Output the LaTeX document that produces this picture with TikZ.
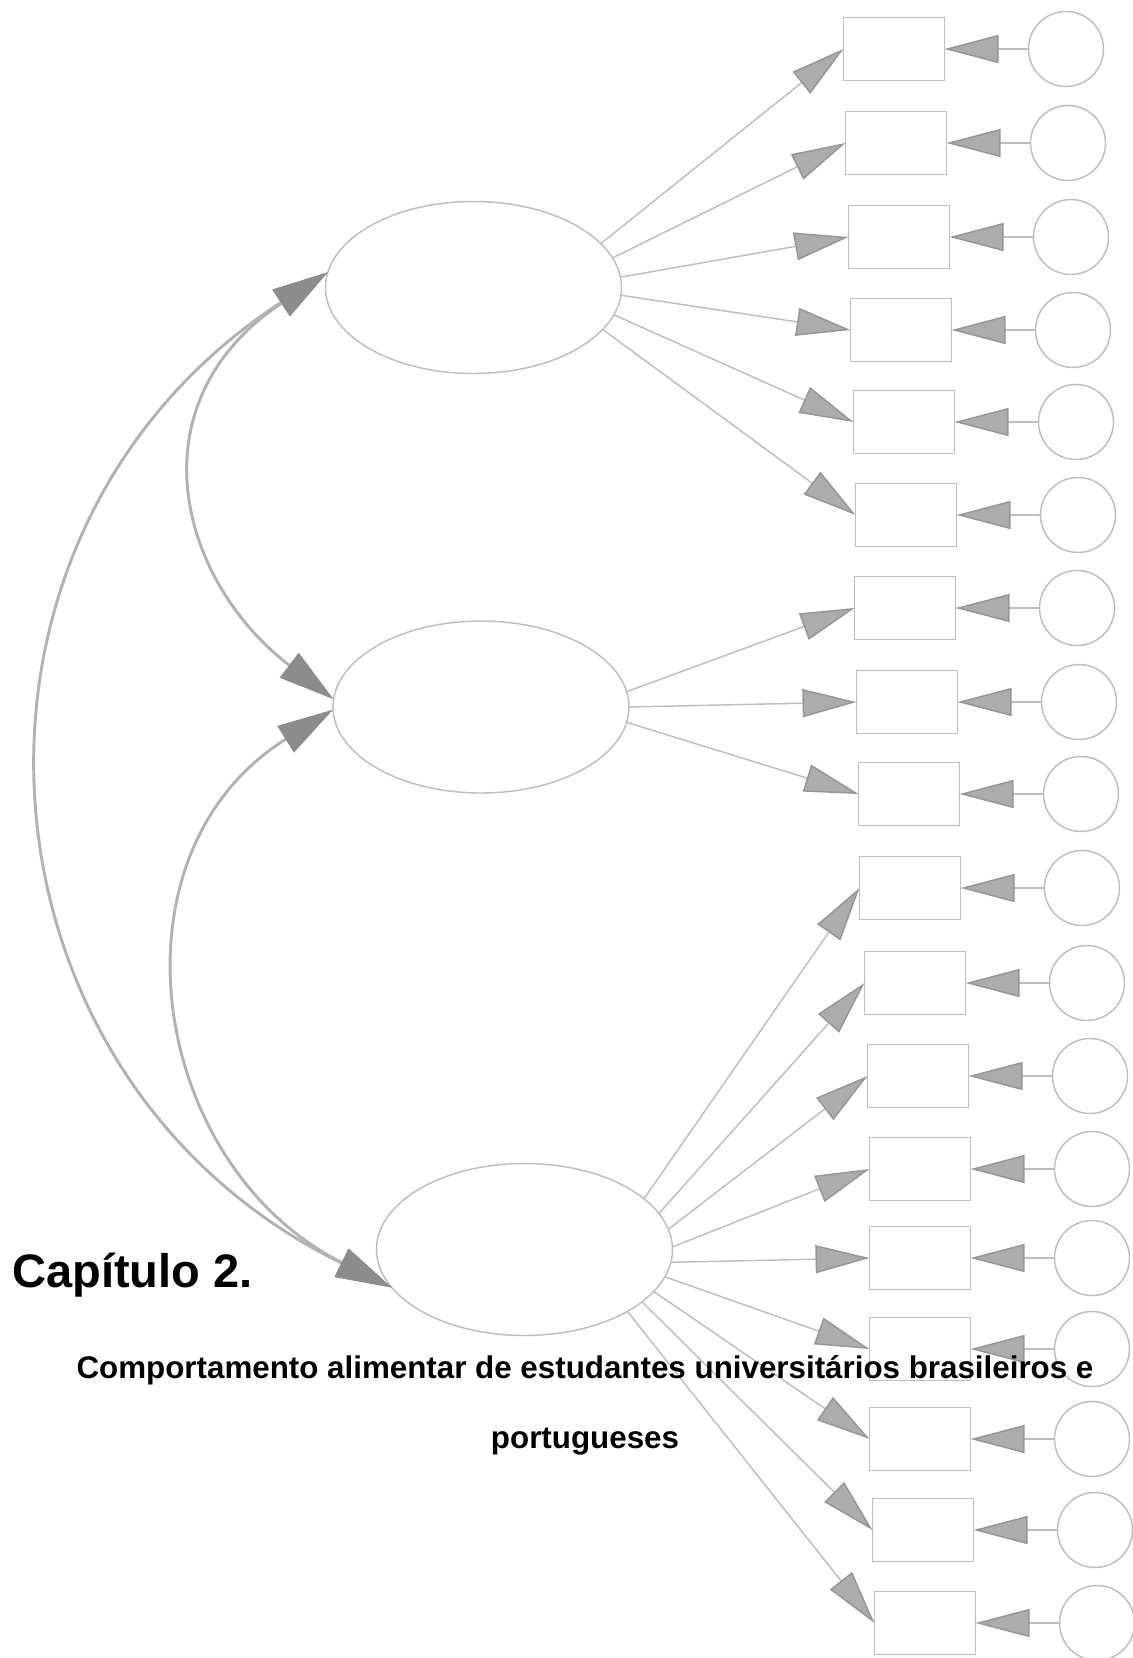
\documentclass[tikz,border=0pt]{standalone}
\usepackage{fontspec}
\setmainfont{Liberation Sans}
\usepackage{xcolor}
\usetikzlibrary{shapes.geometric,arrows.meta}

\definecolor{linegray}{RGB}{190,190,190}
\definecolor{headgray}{RGB}{172,172,172}
\definecolor{headedge}{RGB}{150,150,150}
\definecolor{arcgray}{RGB}{178,178,178}
\definecolor{archead}{RGB}{140,140,140}

\begin{document}
\begin{tikzpicture}[x=0.75pt,y=0.75pt,yscale=-1,xscale=1,
  factor/.style={ellipse, draw=linegray, line width=1.1pt, minimum width=222pt, minimum height=129pt, inner sep=0pt, outer sep=0pt},
  item/.style={rectangle, draw=linegray, line width=1.1pt, minimum width=75.75pt, minimum height=47.25pt, inner sep=0pt, outer sep=0pt},
  errterm/.style={circle, draw=linegray, line width=1.1pt, minimum size=56.25pt, inner sep=0pt, outer sep=0pt},
  loading/.style={draw=linegray, line width=1.1pt, -{Triangle[length=40.5pt,width=21pt,fill=headgray,color=headedge]}},
  covar/.style={draw=arcgray, line width=2.2pt, {Triangle[length=42pt,width=23pt,fill=archead,color=archead]}-{Triangle[length=42pt,width=23pt,fill=archead,color=archead]}}
]
\useasboundingbox (0,0) rectangle (1132,1658);

%Shape: Ellipse [factors]
\draw (473.5,287.5) node (e1) [factor] {};
\draw (481,707) node (e2) [factor] {};
\draw (524.5,1249.5) node (e3) [factor] {};

%Shape: Rectangle [items of e1]
\draw (894,49) node (r1) [item] {};
\draw (896,143) node (r2) [item] {};
\draw (899,237) node (r3) [item] {};
\draw (901,330) node (r4) [item] {};
\draw (904,422) node (r5) [item] {};
\draw (906,515) node (r6) [item] {};
%Shape: Rectangle [items of e2]
\draw (905,608) node (r7) [item] {};
\draw (907,702) node (r8) [item] {};
\draw (909,794) node (r9) [item] {};
%Shape: Rectangle [items of e3]
\draw (910,888) node (r10) [item] {};
\draw (915,983) node (r11) [item] {};
\draw (918,1076) node (r12) [item] {};
\draw (920,1169) node (r13) [item] {};
\draw (920,1258) node (r14) [item] {};
\draw (920,1349) node (r15) [item] {};
\draw (920,1439) node (r16) [item] {};
\draw (923,1530) node (r17) [item] {};
\draw (925,1623) node (r18) [item] {};

%Shape: Circle [errors]
\draw (1066,49) node (c1) [errterm] {};
\draw (1068,143) node (c2) [errterm] {};
\draw (1071,237) node (c3) [errterm] {};
\draw (1073,330) node (c4) [errterm] {};
\draw (1076,422) node (c5) [errterm] {};
\draw (1078,515) node (c6) [errterm] {};
\draw (1077,608) node (c7) [errterm] {};
\draw (1079,702) node (c8) [errterm] {};
\draw (1081,794) node (c9) [errterm] {};
\draw (1082,888) node (c10) [errterm] {};
\draw (1087,983) node (c11) [errterm] {};
\draw (1090,1076) node (c12) [errterm] {};
\draw (1092,1169) node (c13) [errterm] {};
\draw (1092,1258) node (c14) [errterm] {};
\draw (1092,1349) node (c15) [errterm] {};
\draw (1092,1439) node (c16) [errterm] {};
\draw (1095,1530) node (c17) [errterm] {};
\draw (1097,1623) node (c18) [errterm] {};

%Straight Lines [loadings]
\draw [loading] (e1.19) -- (r1.west);
\draw [loading] (e1.12) -- (r2.west);
\draw [loading] (e1.4) -- (r3.west);
\draw [loading] (e1.-3) -- (r4.west);
\draw [loading] (e1.-11) -- (r5.west);
\draw [loading] (e1.-18) -- (r6.west);
\draw [loading] (e2.6) -- (r7.west);
\draw [loading] (e2.0) -- (r8.west);
\draw [loading] (e2.-6) -- (r9.west);
\draw [loading] (e3.23.5) -- (r10.west);
\draw [loading] (e3.15) -- (r11.west);
\draw [loading] (e3.8) -- (r12.west);
\draw [loading] (e3.1) -- (r13.west);
\draw [loading] (e3.-5) -- (r14.west);
\draw [loading] (e3.-11) -- (r15.west);
\draw [loading] (e3.-18) -- (r16.west);
\draw [loading] (e3.-24) -- (r17.west);
\draw [loading] (e3.-31) -- (r18.west);

%Straight Lines [errors]
\draw [loading] (c1) -- (r1);
\draw [loading] (c2) -- (r2);
\draw [loading] (c3) -- (r3);
\draw [loading] (c4) -- (r4);
\draw [loading] (c5) -- (r5);
\draw [loading] (c6) -- (r6);
\draw [loading] (c7) -- (r7);
\draw [loading] (c8) -- (r8);
\draw [loading] (c9) -- (r9);
\draw [loading] (c10) -- (r10);
\draw [loading] (c11) -- (r11);
\draw [loading] (c12) -- (r12);
\draw [loading] (c13) -- (r13);
\draw [loading] (c14) -- (r14);
\draw [loading] (c15) -- (r15);
\draw [loading] (c16) -- (r16);
\draw [loading] (c17) -- (r17);
\draw [loading] (c18) -- (r18);

%Curve Lines [covariances]
\draw [covar] (e1.174) .. controls (-75,533) and (-40,1077) .. (e3.196);
\draw [covar] (e1.174) .. controls (132,403) and (178,580) .. (e2.177);
\draw [covar] (e2.181) .. controls (102,854) and (149,1166) .. (e3.196);

% Text Node
\draw (12,1287) node (chap) [anchor=base west, inner sep=0pt, font=\fontsize{35.25}{42}\selectfont\bfseries] {Capítulo 2.};
% Text Node
\draw (585,1378) node (subA) [anchor=base, inner sep=0pt, font=\fontsize{23.5}{28}\selectfont\bfseries] {Comportamento alimentar de estudantes universitários brasileiros e};
% Text Node
\draw (585,1448) node (subB) [anchor=base, inner sep=0pt, font=\fontsize{23.5}{28}\selectfont\bfseries] {portugueses};

\end{tikzpicture}
\end{document}
